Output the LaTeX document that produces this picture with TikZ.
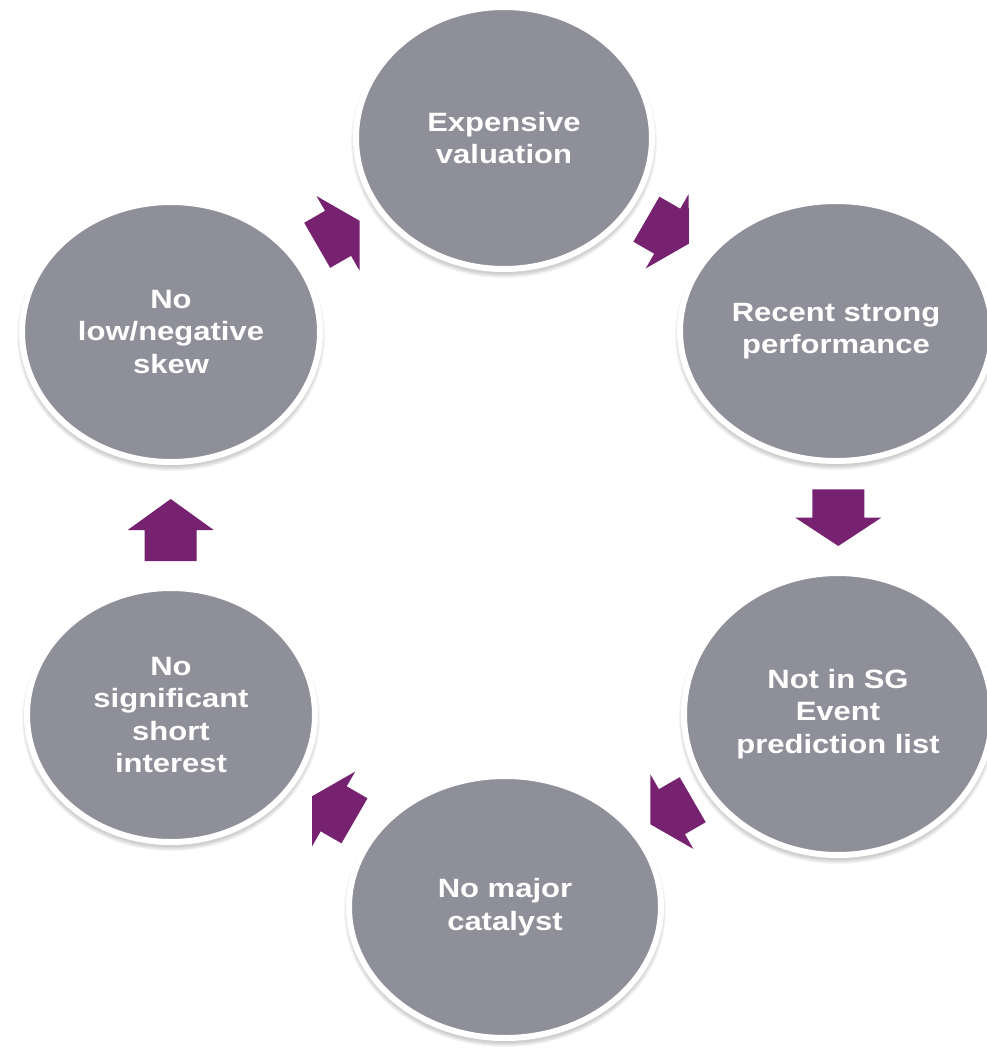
\documentclass[tikz,border=0pt]{standalone}
\usepackage{fontspec}
\setmainfont{Liberation Sans}[FakeStretch=1.17]
\usetikzlibrary{shapes.geometric}
\definecolor{bubblegray}{HTML}{8F8F9A}
\definecolor{arrowpurple}{HTML}{772270}
\tikzset{
  bubble/.style={ellipse, fill=bubblegray, draw=white, line width=6pt, inner sep=0pt,
    text=white, font=\bfseries\fontsize{26.5}{32.5}\selectfont, align=center},
  bubbleshadow/.style={fill=black, opacity=0.04},
  blockarrow/.style={fill=arrowpurple}
}
% name, cx, cy, rx, ry, text
\newcommand\mybubble[6]{%
  \foreach \k in {1,...,5} {
    \path[bubbleshadow] (#2,#3+4) ellipse [x radius=#4+3+\k, y radius=#5+3+\k];
  }
  \node[bubble, minimum width=2*#4+6, minimum height=2*#5+6] (#1) at (#2,#3) {#6};
}
% cx, cy, angle, shaft length, head length
\newcommand\myarrow[5]{%
  \path[blockarrow, shift={(#1,#2)}, rotate=#3]
    (-#4,-26) -- (0,-26) -- (0,-43) -- (#5,0) -- (0,43) -- (0,26) -- (-#4,26) -- cycle;
}
\begin{document}
\begin{tikzpicture}[x=1pt,y=-1pt]
\useasboundingbox[fill=white] (0,0) rectangle (986,1055);
% block arrows
\myarrow{338}{233.3}{30}{24}{25}
\myarrow{667.2}{231.2}{-30}{24}{25}
\myarrow{838.3}{517.7}{-90}{28.4}{28.3}
\myarrow{671.9}{811.7}{-150}{24}{25}
\myarrow{333.7}{808.8}{150}{24}{25}
\myarrow{170.7}{530}{90}{31}{31}
% bubbles
\mybubble{val}{504}{138}{145}{128}{Expensive\\valuation}
\mybubble{perf}{836}{331}{153}{127}{Recent strong\\performance}
\mybubble{sg}{838}{714}{151}{138}{Not in SG\\Event\\prediction list}
\mybubble{cat}{505}{907}{153}{128}{No major\\catalyst}
\mybubble{short}{171}{715}{141}{124}{No\\significant\\short\\interest}
\mybubble{skew}{171}{332}{146}{127}{No\\low/negative\\skew}
\end{tikzpicture}
\end{document}
